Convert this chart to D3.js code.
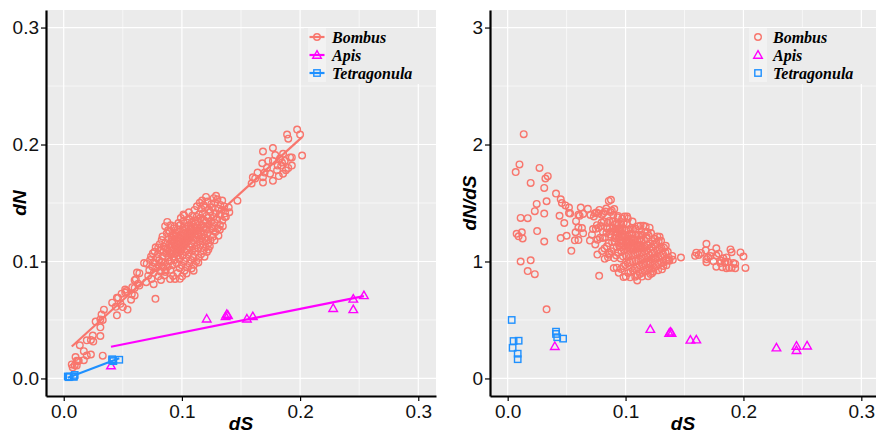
<!DOCTYPE html>
<html>
<head>
<meta charset="utf-8">
<script src="https://cdn.jsdelivr.net/npm/d3@7"></script>
<style>
  body { margin: 0; background: #fff; }
  svg { display: block; }
</style>
</head>
<body>
<svg id="chart" width="876" height="437"></svg>
<script>
// genera shown in the legend
const genera = ["Bombus", "Apis", "Tetragonula"];
const colors = { Bombus: "#F8766D", Apis: "#FF00FF", Tetragonula: "#1E90FF" };

// axis ticks
const dsTicks = [0, 0.1, 0.2, 0.3];
const dnTicks = [0, 0.1, 0.2, 0.3];
const ratioTicks = [0, 1, 2, 3];

// [dS, dN] per gene
const bombus = [
  [0.0076,0.0094],[0.011,0.011],[0.012,0.015],[0.0136,0.0284],[0.010,0.0183],[0.0068,0.012],
  [0.027,0.0486],[0.0195,0.0326],[0.032,0.0547],[0.034,0.0588],[0.031,0.0505],[0.017,0.0233],
  [0.011,0.0151],[0.0093,0.0113],[0.0127,0.0152],[0.0246,0.0367],[0.023,0.0329],[0.031,0.0437],
  [0.033,0.050],[0.041,0.0648],[0.045,0.0689],[0.049,0.0725],[0.053,0.0747],[0.044,0.0612],
  [0.048,0.0638],[0.031,0.0363],[0.025,0.0315],[0.0195,0.0197],[0.017,0.0156],[0.023,0.0205],
  [0.033,0.0195],[0.054,0.0589],[0.057,0.0673],[0.060,0.0774],[0.061,0.0848],[0.068,0.0986],
  [0.064,0.0794],[0.045,0.054],[0.046,0.069],[0.050,0.061],[0.052,0.0735],[0.0576,0.072],
  [0.060,0.071],[0.052,0.076],[0.058,0.078],[0.060,0.084],[0.062,0.0906],[0.064,0.090],
  [0.063,0.081],[0.0754,0.107],[0.077,0.099],[0.080,0.112],[0.090,0.085],[0.086,0.091],
  [0.0702,0.0981],[0.0715,0.0879],[0.0698,0.0823],[0.0724,0.0925],[0.0731,0.1012],[0.0743,0.0851],
  [0.0748,0.0957],[0.0739,0.1043],[0.0762,0.0903],[0.0757,0.0992],[0.0769,0.1084],[0.0761,0.0806],
  [0.0783,0.0942],[0.0778,0.1121],[0.0789,0.1028],[0.0776,0.0681],[0.0801,0.0873],[0.0806,0.0968],
  [0.0797,0.1062],[0.0812,0.1148],[0.0808,0.1011],[0.0821,0.0912],[0.0826,0.0998],[0.0817,0.1097],
  [0.0829,0.1183],[0.0823,0.0842],[0.0842,0.0951],[0.0838,0.1043],[0.0847,0.1127],[0.0836,0.1214],
  [0.0851,0.0881],[0.0844,0.1082],[0.0863,0.0925],[0.0857,0.0992],[0.0868,0.1068],[0.0861,0.1159],
  [0.0872,0.1241],[0.0866,0.1113],[0.0858,0.1302],[0.0881,0.0958],[0.0886,0.1034],[0.0877,0.1101],
  [0.0889,0.1192],[0.0883,0.1268],[0.0876,0.1338],[0.0891,0.1143],[0.0903,0.0929],[0.0898,0.1003],
  [0.0907,0.1062],[0.0901,0.1131],[0.0912,0.1204],[0.0896,0.1252],[0.0909,0.1091],[0.0915,0.1172],
  [0.0904,0.1309],[0.0921,0.0968],[0.0926,0.1041],[0.0918,0.1098],[0.0929,0.1161],[0.0923,0.1219],
  [0.0931,0.1283],[0.0917,0.1122],[0.0934,0.1189],[0.0925,0.0876],[0.0942,0.0851],[0.0938,0.1012],
  [0.0946,0.1073],[0.0941,0.1132],[0.0949,0.1191],[0.0944,0.1243],[0.0937,0.1302],[0.0952,0.1152],
  [0.0947,0.1214],[0.0955,0.1101],[0.0962,0.0901],[0.0958,0.0983],[0.0966,0.1049],[0.0961,0.1108],
  [0.0969,0.1172],[0.0957,0.1221],[0.0964,0.1273],[0.0971,0.1328],[0.0968,0.1139],[0.0975,0.1201],
  [0.0963,0.1081],[0.0982,0.0942],[0.0978,0.1021],[0.0986,0.1083],[0.0981,0.1149],[0.0989,0.1198],
  [0.0976,0.1252],[0.0984,0.1309],[0.0991,0.1372],[0.0987,0.1121],[0.0979,0.1178],[0.0983,0.0852],
  [0.1002,0.0873],[0.0998,0.0968],[0.1006,0.1052],[0.1001,0.1109],[0.1009,0.1163],[0.0996,0.1221],
  [0.1004,0.1271],[0.1011,0.1342],[0.1007,0.1189],[0.0999,0.1132],[0.1013,0.1402],[0.1022,0.0921],
  [0.1018,0.1003],[0.1026,0.1081],[0.1021,0.1142],[0.1029,0.1192],[0.1016,0.1238],[0.1024,0.1302],
  [0.1031,0.1211],[0.1027,0.1169],[0.1019,0.1392],[0.1042,0.0951],[0.1038,0.1029],[0.1046,0.1098],
  [0.1041,0.1162],[0.1049,0.1221],[0.1036,0.1279],[0.1044,0.1331],[0.1051,0.1192],[0.1047,0.1252],
  [0.1039,0.0898],[0.1062,0.0982],[0.1058,0.1061],[0.1066,0.1122],[0.1061,0.1183],[0.1069,0.1241],
  [0.1056,0.1302],[0.1064,0.1359],[0.1071,0.1211],[0.1067,0.1272],[0.1059,0.1421],[0.1082,0.0941],
  [0.1078,0.1012],[0.1086,0.1091],[0.1081,0.1152],[0.1089,0.1212],[0.1076,0.1272],[0.1084,0.1331],
  [0.1091,0.1241],[0.1087,0.1392],[0.1102,0.0972],[0.1098,0.1043],[0.1106,0.1112],[0.1101,0.1181],
  [0.1109,0.1232],[0.1096,0.1292],[0.1104,0.1351],[0.1111,0.1262],[0.1107,0.1441],[0.1099,0.0921],
  [0.1122,0.1003],[0.1118,0.1082],[0.1126,0.1141],[0.1121,0.1202],[0.1129,0.1262],[0.1116,0.1322],
  [0.1124,0.1381],[0.1131,0.1291],[0.1127,0.1472],[0.1142,0.1031],[0.1138,0.1112],[0.1146,0.1171],
  [0.1141,0.1231],[0.1149,0.1282],[0.1136,0.1342],[0.1144,0.1402],[0.1151,0.1502],[0.1139,0.0992],
  [0.1162,0.1062],[0.1158,0.1141],[0.1166,0.1201],[0.1161,0.1262],[0.1169,0.1312],[0.1156,0.1372],
  [0.1164,0.1451],[0.1171,0.1521],[0.1182,0.1091],[0.1178,0.1172],[0.1186,0.1231],[0.1181,0.1292],
  [0.1189,0.1352],[0.1176,0.1411],[0.1184,0.1482],[0.1191,0.1041],[0.1202,0.1121],[0.1198,0.1202],
  [0.1206,0.1271],[0.1201,0.1332],[0.1209,0.1392],[0.1196,0.1462],[0.1204,0.1552],[0.1211,0.1081],
  [0.1207,0.1181],[0.1222,0.1151],[0.1218,0.1241],[0.1226,0.1312],[0.1221,0.1372],[0.1229,0.1442],
  [0.1216,0.1512],[0.1224,0.1102],[0.1242,0.1181],[0.1238,0.1272],[0.1246,0.1342],[0.1241,0.1422],
  [0.1249,0.1492],[0.1236,0.1131],[0.1262,0.1211],[0.1258,0.1302],[0.1266,0.1381],[0.1261,0.1462],
  [0.1269,0.1541],[0.1256,0.1282],[0.1282,0.1252],[0.1278,0.1331],[0.1286,0.1412],[0.1281,0.1502],
  [0.1289,0.1561],[0.1276,0.1181],[0.1302,0.1281],[0.1298,0.1362],[0.1306,0.1452],[0.1301,0.1532],
  [0.1309,0.1221],[0.1322,0.1311],[0.1318,0.1402],[0.1326,0.1482],[0.1321,0.1271],[0.1342,0.1351],
  [0.1338,0.1442],[0.1346,0.1302],[0.1341,0.1521],[0.1362,0.1381],[0.1358,0.1471],[0.1366,0.1412],
  [0.1372,0.1382],[0.1401,0.1421],[0.1396,0.1462],[0.1470,0.1520],
  [0.1975,0.2128],[0.200,0.2085],[0.189,0.2085],[0.190,0.205],[0.2017,0.1906],[0.1686,0.194],
  [0.177,0.197],[0.1856,0.192],[0.1915,0.189],[0.190,0.180],[0.1856,0.175],[0.177,0.169],
  [0.1686,0.1675],[0.159,0.1667],[0.160,0.172],[0.164,0.176],[0.172,0.180],[0.1746,0.175],
  [0.1805,0.178],[0.1847,0.1846],[0.1686,0.172],[0.168,0.184],[0.177,0.186],[0.181,0.182],
  [0.173,0.186],[0.179,0.191],[0.183,0.188],[0.187,0.186],[0.170,0.176],[0.162,0.171],
  [0.182,0.173],[0.188,0.178],[0.193,0.182],[0.184,0.182],[0.193,0.189]
];
const apis = [
  [0.040,0.011],[0.121,0.051],[0.137,0.053],[0.138,0.055],[0.139,0.054],[0.155,0.051],
  [0.160,0.053],[0.228,0.060],[0.245,0.068],[0.245,0.059],[0.254,0.071]
];
const tetragonula = [
  [0.0034,0.0017],[0.005,0.0016],[0.0093,0.003],[0.0042,0.0011],[0.0085,0.0018],[0.0085,0.0014],
  [0.041,0.0164],[0.041,0.0156],[0.042,0.0148],[0.047,0.016]
];

const groups = [
  { name: "Bombus", data: bombus, shape: "circle" },
  { name: "Apis", data: apis, shape: "triangle" },
  { name: "Tetragonula", data: tetragonula, shape: "square" }
];

const svg = d3.select("#chart");
const tickFont = "'Liberation Sans', Arial, sans-serif";

// draw one open marker, ggplot shapes 1 / 2 / 0
function marker(sel, shape, color) {
  if (shape === "circle") {
    sel.append("circle").attr("r", 3.3);
  } else if (shape === "triangle") {
    sel.append("path").attr("d", "M0,-4.3L4.3,3.2L-4.3,3.2Z");
  } else {
    sel.append("rect").attr("x", -3.2).attr("y", -3.2).attr("width", 6.4).attr("height", 6.4);
  }
  sel.selectAll("circle,path,rect")
    .attr("fill", "none")
    .attr("stroke", color)
    .attr("stroke-width", 1.4);
}

// ordinary least squares, like geom_smooth(method = "lm")
function fit(data) {
  const mx = d3.mean(data, d => d[0]), my = d3.mean(data, d => d[1]);
  const sxy = d3.sum(data, d => (d[0] - mx) * (d[1] - my));
  const sxx = d3.sum(data, d => (d[0] - mx) ** 2);
  const b = sxy / sxx, a = my - b * mx;
  const [x0, x1] = d3.extent(data, d => d[0]);
  return [[x0, a + b * x0], [x1, a + b * x1]];
}

function drawPanel(opt) {
  const x = d3.scaleLinear().domain([-0.015, 0.315]).range(opt.xRange);
  const y = d3.scaleLinear().domain(opt.yDomain).range([396, 10]);
  const g = svg.append("g");

  g.append("rect")
    .attr("x", opt.xRange[0]).attr("y", 10)
    .attr("width", opt.xRange[1] - opt.xRange[0]).attr("height", 386)
    .attr("fill", "#EBEBEB");

  // minor grid
  g.selectAll(".mx").data([0.05, 0.15, 0.25]).join("line")
    .attr("x1", d => x(d)).attr("x2", d => x(d)).attr("y1", 10).attr("y2", 396)
    .attr("stroke", "#fff").attr("stroke-width", 0.6);
  g.selectAll(".my").data(opt.yMinor).join("line")
    .attr("y1", d => y(d)).attr("y2", d => y(d)).attr("x1", opt.xRange[0]).attr("x2", opt.xRange[1])
    .attr("stroke", "#fff").attr("stroke-width", 0.6);
  // major grid
  g.selectAll(".gx").data(dsTicks).join("line")
    .attr("x1", d => x(d)).attr("x2", d => x(d)).attr("y1", 10).attr("y2", 396)
    .attr("stroke", "#fff").attr("stroke-width", 1.2);
  g.selectAll(".gy").data(opt.yTicks).join("line")
    .attr("y1", d => y(d)).attr("y2", d => y(d)).attr("x1", opt.xRange[0]).attr("x2", opt.xRange[1])
    .attr("stroke", "#fff").attr("stroke-width", 1.2);

  // points
  groups.forEach(gr => {
    gr.data.forEach(d => {
      const v = opt.value(d);
      const m = g.append("g").attr("transform", `translate(${x(d[0])},${y(v)})`);
      marker(m, gr.shape, colors[gr.name]);
    });
  });

  // regression lines
  if (opt.lines) {
    groups.forEach(gr => {
      const seg = fit(gr.data);
      g.append("line")
        .attr("x1", x(seg[0][0])).attr("y1", y(seg[0][1]))
        .attr("x2", x(seg[1][0])).attr("y2", y(seg[1][1]))
        .attr("stroke", colors[gr.name]).attr("stroke-width", 2.2);
    });
  }

  // axes
  const xAxis = g.append("g").attr("transform", "translate(0,396)")
    .call(d3.axisBottom(x).tickValues(dsTicks).tickFormat(d3.format(".1f")).tickSize(5).tickSizeOuter(0));
  const yAxis = g.append("g").attr("transform", `translate(${opt.xRange[0]},0)`)
    .call(d3.axisLeft(y).tickValues(opt.yTicks).tickFormat(opt.yFormat).tickSize(5).tickSizeOuter(0));
  [xAxis, yAxis].forEach(a => {
    a.select(".domain").attr("stroke", "#000").attr("stroke-width", 2.2);
    a.selectAll(".tick line").attr("stroke", "#000").attr("stroke-width", 1.2);
    a.selectAll("text").attr("fill", "#111").style("font-family", tickFont).style("font-size", "19px");
  });
  xAxis.selectAll("text").attr("dy", "0.95em").attr("y", 4);
  yAxis.selectAll("text").attr("x", -7);

  g.append("text")
    .attr("x", (opt.xRange[0] + Math.min(opt.xRange[1], 876)) / 2).attr("y", 430)
    .attr("text-anchor", "middle")
    .style("font-family", tickFont).style("font-size", "19px")
    .style("font-weight", "bold").style("font-style", "italic")
    .text("dS");
  g.append("text")
    .attr("transform", `translate(${opt.yTitleX},203) rotate(-90)`)
    .attr("text-anchor", "middle")
    .style("font-family", tickFont).style("font-size", "19px")
    .style("font-weight", "bold").style("font-style", "italic")
    .text(opt.yTitle);

  // legend, kept inside the panel
  const lg = g.append("g");
  lg.append("rect")
    .attr("x", opt.legendX - 4).attr("y", 28)
    .attr("width", Math.min(136, opt.xRange[1] - opt.legendX + 4)).attr("height", 56)
    .attr("fill", "#EBEBEB");
  genera.forEach((name, i) => {
    const gr = groups.find(q => q.name === name);
    const cy = 37 + i * 18;
    lg.append("rect")
      .attr("x", opt.legendX).attr("y", cy - 9).attr("width", 18).attr("height", 18)
      .attr("fill", "#F2F2F2");
    if (opt.lines) {
      lg.append("line")
        .attr("x1", opt.legendX + 1.5).attr("x2", opt.legendX + 16.5).attr("y1", cy).attr("y2", cy)
        .attr("stroke", colors[name]).attr("stroke-width", 2.2);
    }
    const m = lg.append("g").attr("transform", `translate(${opt.legendX + 9},${cy})`);
    marker(m, gr.shape, colors[name]);
    lg.append("text")
      .attr("x", opt.legendX + 24).attr("y", cy + 5.5)
      .style("font-family", "'Liberation Serif', 'Times New Roman', serif")
      .style("font-size", "16px").style("font-weight", "bold").style("font-style", "italic")
      .attr("fill", "#000")
      .text(name);
  });
}

drawPanel({
  xRange: [46, 436],
  yDomain: [-0.015, 0.315],
  yTicks: dnTicks,
  yMinor: [0.05, 0.15, 0.25],
  yFormat: d3.format(".1f"),
  value: d => d[1],
  lines: true,
  yTitle: "dN",
  yTitleX: 26,
  legendX: 308
});

drawPanel({
  xRange: [490, 879],
  yDomain: [-0.15, 3.15],
  yTicks: ratioTicks,
  yMinor: [0.5, 1.5, 2.5],
  yFormat: d3.format("d"),
  value: d => d[1] / d[0],
  lines: false,
  yTitle: "dN/dS",
  yTitleX: 476,
  legendX: 749
});
</script>
</body>
</html>
